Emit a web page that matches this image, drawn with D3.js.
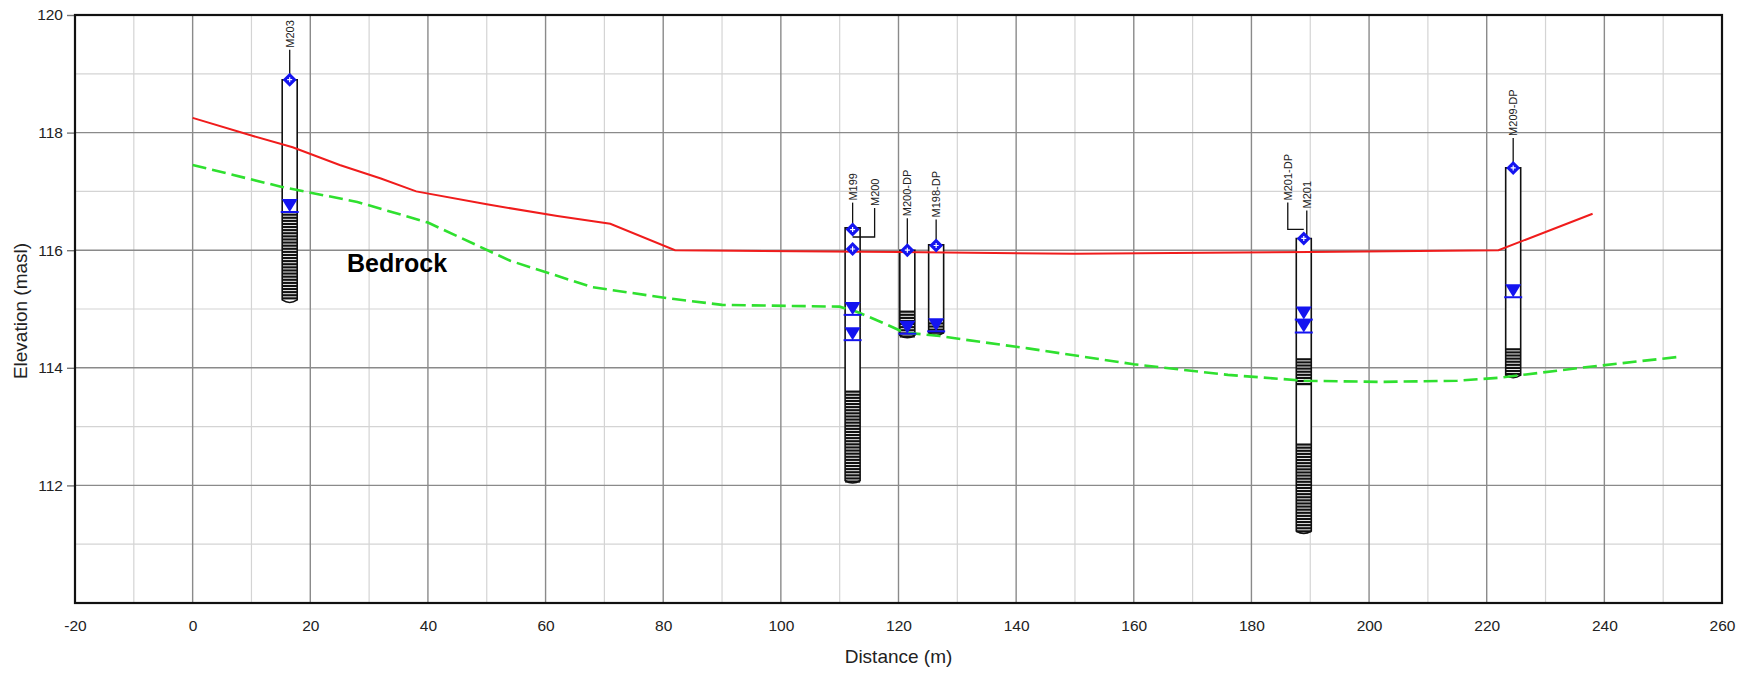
<!DOCTYPE html>
<html>
<head>
<meta charset="utf-8">
<script src="https://cdn.jsdelivr.net/npm/d3@7"></script>
<style>
  body { margin: 0; background: #fff; }
  svg { display: block; font-family: "Liberation Sans", Arial, sans-serif; }
</style>
</head>
<body>
<svg id="chart" width="1747" height="673"></svg>
<script>
// axis ticks
var xTicks = [-20, 0, 20, 40, 60, 80, 100, 120, 140, 160, 180, 200, 220, 240, 260];
var yTicks = [112, 114, 116, 118, 120];

// ground surface (red)
var groundDist = [0, 10, 17, 25, 32, 38, 50, 62, 71, 82, 120, 150, 190, 222, 238];
var groundElev = [118.25, 117.95, 117.75, 117.45, 117.22, 117.0, 116.78, 116.58, 116.45, 116.0, 115.97, 115.94, 115.97, 116.0, 116.62];

// bedrock surface (green dashed)
var rockDist = [0, 15, 28, 40, 54, 68, 81, 90, 110, 113, 117, 121, 127, 134, 142, 160, 176, 189, 202, 215, 222, 236, 253];
var rockElev = [117.45, 117.08, 116.82, 116.47, 115.82, 115.37, 115.18, 115.07, 115.04, 114.95, 114.78, 114.6, 114.54, 114.44, 114.33, 114.06, 113.88, 113.78, 113.76, 113.78, 113.83, 114.0, 114.19];

// wells
var wellDist   = [16.5, 112.2, 121.5, 126.4, 188.9, 224.5];
var wellTop    = [118.9, 116.38, 116.0, 116.09, 116.2, 117.4];
var wellBottom = [115.12, 112.05, 114.52, 114.56, 111.19, 113.84];

// [well, elevation]
var waterLevels = [[0, 116.65], [1, 114.9], [1, 114.47], [2, 114.58], [3, 114.62], [4, 114.82], [4, 114.6], [5, 115.2]];
// [well, top, bottom]
var screens = [[0, 116.63, 115.12], [1, 113.62, 112.05], [2, 114.98, 114.52], [3, 114.78, 114.56],
               [4, 114.17, 113.71], [4, 112.72, 111.19], [5, 114.34, 113.84]];
// [name, well, elevation of marker]
var labels = [["M203", 0, 118.9], ["M199", 1, 116.35], ["M200", 1, 116.02], ["M200-DP", 2, 116.0],
              ["M198-DP", 3, 116.08], ["M201-DP", 4, 116.2], ["M201", 4, 116.2], ["M209-DP", 5, 117.4]];

// leader layout (px): dx offset, elbow height, total rise
var leader = {
  "M203": [0, 0, 30], "M199": [0, 0, 27], "M200": [22, 12, 41], "M200-DP": [0, 0, 32],
  "M198-DP": [0, 0, 26], "M201-DP": [-16, 9, 36], "M201": [3, 0, 28], "M209-DP": [0, 0, 30]
};

var svg = d3.select("#chart");
var x = d3.scaleLinear().domain([-20, 260]).range([75, 1722]);
var y = d3.scaleLinear().domain([110, 120]).range([603, 15]);
var pL = 75, pR = 1722, pT = 15, pB = 603;

svg.append("rect").attr("width", 1747).attr("height", 673).attr("fill", "#fff");

//grid
var grid = svg.append("g");
grid.selectAll(".vmin").data(d3.range(-10, 260, 20)).enter().append("line")
    .attr("x1", x).attr("x2", x).attr("y1", pT).attr("y2", pB)
    .attr("stroke", "#d4d4d4").attr("stroke-width", 1.2);
grid.selectAll(".hmin").data(d3.range(111, 120, 2)).enter().append("line")
    .attr("y1", y).attr("y2", y).attr("x1", pL).attr("x2", pR)
    .attr("stroke", "#d4d4d4").attr("stroke-width", 1.2);
grid.selectAll(".vmaj").data(xTicks.slice(1, -1)).enter().append("line")
    .attr("x1", x).attr("x2", x).attr("y1", pT).attr("y2", pB)
    .attr("stroke", "#8a8a8a").attr("stroke-width", 1.4);
grid.selectAll(".hmaj").data(yTicks.slice(0, -1)).enter().append("line")
    .attr("y1", y).attr("y2", y).attr("x1", pL).attr("x2", pR)
    .attr("stroke", "#8a8a8a").attr("stroke-width", 1.4);

//axes
var xAxis = svg.append("g").attr("transform", "translate(0," + pB + ")")
    .call(d3.axisBottom(x).tickValues(xTicks).tickFormat(String).tickSize(0).tickPadding(17));
var yAxis = svg.append("g").attr("transform", "translate(" + pL + ",0)")
    .call(d3.axisLeft(y).tickValues(yTicks).tickFormat(String).tickSize(8).tickPadding(4));
[xAxis, yAxis].forEach(function(a) {
    a.select(".domain").remove();
    a.selectAll("text").attr("font-size", 15.5).attr("fill", "#222")
        .attr("font-family", "Liberation Sans, Arial, sans-serif");
    a.selectAll(".tick line").attr("stroke", "#777").attr("stroke-width", 1.4);
});

svg.append("text").attr("x", (pL + pR) / 2).attr("y", 663).attr("text-anchor", "middle")
    .attr("font-size", 19).attr("fill", "#222").text("Distance (m)");
svg.append("text").attr("transform", "translate(27,311) rotate(-90)").attr("text-anchor", "middle")
    .attr("font-size", 19).attr("fill", "#222").text("Elevation (masl)");

//wells
var half = 7.5;
var wells = svg.append("g");
wells.selectAll("path").data(wellDist).enter().append("path")
    .attr("d", function(d, i) {
        var x0 = x(d) - half, x1 = x(d) + half, t = y(wellTop[i]), b = y(wellBottom[i]);
        return "M" + x0 + "," + t + "V" + (b - 2) + "Q" + x(d) + "," + (b + 3) + " " + x1 + "," + (b - 2) + "V" + t + "Z";
    })
    .attr("fill", "#fff").attr("stroke", "#111").attr("stroke-width", 1.6);

//screen hatching
screens.forEach(function(s) {
    var cx = x(wellDist[s[0]]);
    var ys = d3.range(y(s[1]) + 1.5, y(s[2]) - 0.5, 3.1);
    wells.append("g").selectAll("line").data(ys).enter().append("line")
        .attr("x1", cx - half).attr("x2", cx + half)
        .attr("y1", function(d) { return d; }).attr("y2", function(d) { return d; })
        .attr("stroke", "#111").attr("stroke-width", 2.2);
});

//surfaces
var line = d3.line().x(function(d) { return x(d[0]); }).y(function(d) { return y(d[1]); });
svg.append("path").datum(d3.zip(rockDist, rockElev)).attr("d", line)
    .attr("fill", "none").attr("stroke", "#2fe02f").attr("stroke-width", 2.6)
    .attr("stroke-dasharray", "14,6");
svg.append("path").datum(d3.zip(groundDist, groundElev)).attr("d", line)
    .attr("fill", "none").attr("stroke", "#f01c1c").attr("stroke-width", 2);

svg.append("text").attr("x", 347).attr("y", 272).attr("font-size", 25).attr("font-weight", "bold")
    .attr("fill", "#000").text("Bedrock");

//water levels
var blue = "#1414f0";
var wl = svg.append("g");
waterLevels.forEach(function(w) {
    var cx = x(wellDist[w[0]]), cy = y(w[1]);
    wl.append("path")
        .attr("d", "M" + (cx - 8) + "," + (cy - 13) + "L" + (cx + 8) + "," + (cy - 13) + "L" + cx + "," + cy + "Z")
        .attr("fill", blue);
    wl.append("line").attr("x1", cx - 9).attr("x2", cx + 9).attr("y1", cy).attr("y2", cy)
        .attr("stroke", blue).attr("stroke-width", 2);
});

//labels and leaders
var lab = svg.append("g");
labels.forEach(function(l) {
    var cx = x(wellDist[l[1]]), cy = y(l[2]), lay = leader[l[0]];
    var lx = cx + lay[0], ytop = cy - lay[2];
    var d;
    if (lay[0] === 0) d = "M" + cx + "," + cy + "V" + ytop;
    else d = "M" + cx + "," + (cy - lay[1]) + "H" + lx + "V" + ytop;
    lab.append("path").attr("d", d).attr("fill", "none").attr("stroke", "#111").attr("stroke-width", 1.3);
    lab.append("text").attr("transform", "translate(" + (lx + 4) + "," + (ytop - 2) + ") rotate(-90)")
        .attr("font-size", 11).attr("fill", "#222").text(l[0]);
});

//top markers (diamonds)
labels.forEach(function(l) {
    if (l[0] === "M201") return;
    var cx = x(wellDist[l[1]]), cy = y(l[2]);
    var g = lab.append("g").attr("transform", "translate(" + cx + "," + cy + ")");
    g.append("path").attr("d", "M0,-7L7,0L0,7L-7,0Z").attr("fill", blue);
    g.append("path").attr("d", "M-2.5,0H2.5M0,-2.5V2.5").attr("stroke", "#fff").attr("stroke-width", 1.2);
});

//frame
svg.append("rect").attr("x", pL).attr("y", pT).attr("width", pR - pL).attr("height", pB - pT)
    .attr("fill", "none").attr("stroke", "#111").attr("stroke-width", 2.2);
</script>
</body>
</html>
